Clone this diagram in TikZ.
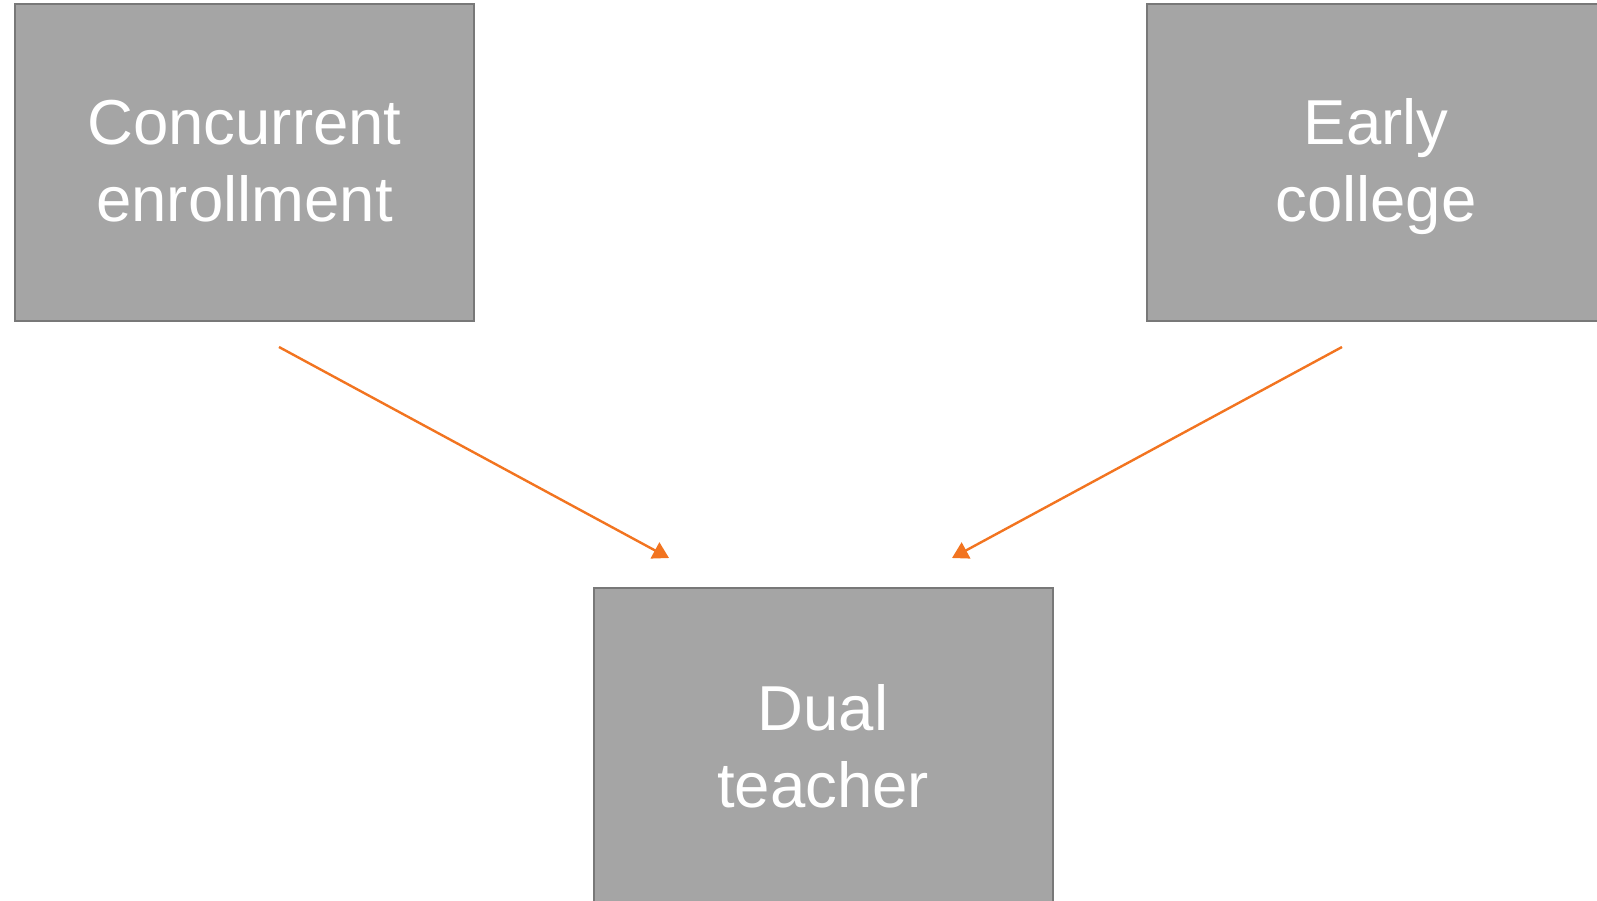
\documentclass[tikz,border=0pt]{standalone}
\usepackage{fontspec}
\setmainfont{Liberation Sans}
\usetikzlibrary{arrows.meta}
\definecolor{boxfill}{RGB}{165,165,165}
\definecolor{boxline}{RGB}{120,120,120}
\definecolor{arrorange}{RGB}{242,116,32}
\newcommand{\tpstrut}[1]{\rule{0pt}{#1}}
\newcommand{\btstrut}[1]{\rule[-#1]{0pt}{#1}}
\tikzset{
  grybox/.style={rectangle, draw=boxline, line width=2pt, fill=boxfill,
    minimum width=459pt, minimum height=316pt, inner sep=0pt,
    text=white, align=center, font=\fontsize{63.5}{77}\selectfont},
  orarrow/.style={draw=arrorange, line width=2.4pt,
    -{Triangle[length=16pt,width=18pt]}}
}
\begin{document}
\begin{tikzpicture}[x=1pt,y=-1pt]
\useasboundingbox (0,0) rectangle (1597,901);
\node[grybox] (ce) at (244.5,162.5) {\tpstrut{60pt}Concurrent\\enrollment\btstrut{18pt}};
\node[grybox] (ec) at (1376,162.5) {\tpstrut{60pt}Early\\college\btstrut{18pt}};
\node[grybox] (dt) at (823,745.5) {\tpstrut{62pt}Dual\\teacher\btstrut{16pt}};
\coordinate (s1) at (279,347);
\coordinate (e1) at (669,558);
\coordinate (s2) at (1342,347);
\coordinate (e2) at (952,558);
\draw[orarrow] (s1) -- (e1);
\draw[orarrow] (s2) -- (e2);
\end{tikzpicture}
\end{document}
